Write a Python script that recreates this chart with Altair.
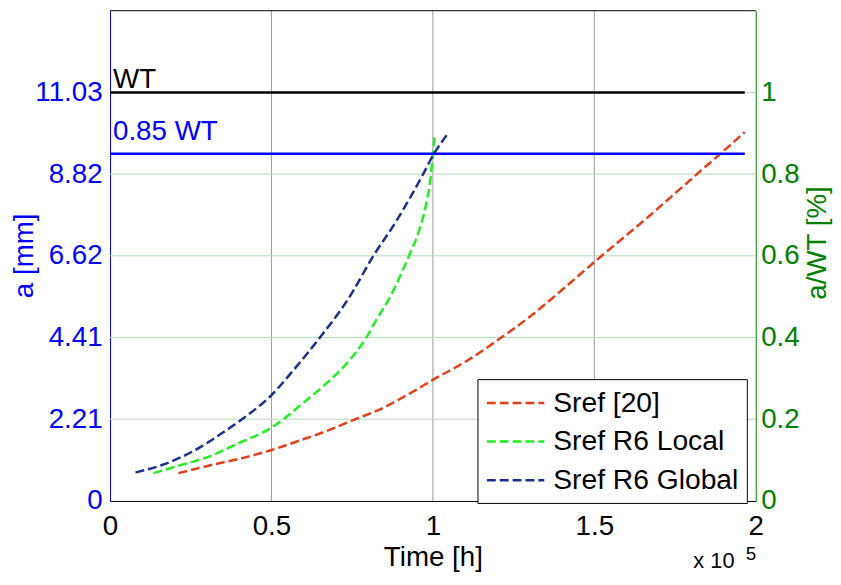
import altair as alt
import pandas as pd

FONT = "Liberation Sans"
FS = 28
WT = 11.03  # wall thickness [mm]

# ---- series (time in units of 1e5 h, crack depth a in mm) ----
t_sref = [0.212, 0.314, 0.416, 0.498, 0.590, 0.662, 0.764, 0.825, 0.948, 1.000,
          1.101, 1.202, 1.307, 1.399, 1.500, 1.663, 1.816, 1.890, 1.966]
a_sref = [0.75, 0.97, 1.17, 1.37, 1.64, 1.86, 2.22, 2.43, 3.00, 3.27,
          3.76, 4.35, 5.02, 5.69, 6.45, 7.64, 8.81, 9.37, 9.96]

t_local = [0.135, 0.212, 0.304, 0.396, 0.498, 0.539, 0.600, 0.662, 0.742, 0.794,
           0.825, 0.865, 0.926, 0.957, 0.979, 0.994, 1.000, 1.006]
a_local = [0.75, 0.95, 1.19, 1.55, 1.97, 2.22, 2.66, 3.11, 3.80, 4.41,
           4.89, 5.47, 6.62, 7.29, 8.01, 8.81, 9.37, 9.91]

t_global = [0.079, 0.161, 0.263, 0.345, 0.411, 0.498, 0.570, 0.650, 0.739, 0.816,
            0.887, 0.969, 1.003, 1.046]
a_global = [0.77, 0.97, 1.37, 1.82, 2.22, 2.84, 3.55, 4.41, 5.47, 6.62,
            7.56, 8.81, 9.37, 9.91]

series_names = ["Sref [20]", "Sref R6 Local", "Sref R6 Global"]
series_colors = ["#E2401A", "#22EE22", "#1C2E8C"]

# ---- axes / reference values ----
x_ticks = [0, 0.5, 1, 1.5, 2]
x_grid = [0.5, 1, 1.5]
ratio_ticks = [0, 0.2, 0.4, 0.6, 0.8, 1]
ratio_grid = [0.2, 0.4, 0.6, 0.8, 1]
mm_ticks = [r * WT for r in ratio_ticks]

ref_ratio = [1.0, 0.85]
ref_labels = ["WT", "0.85 WT"]
ref_colors = ["#000000", "#0000FF"]
ref_label_a = [11.16, 9.75]
ref_t_end = 1.966

W, H = 652, 495
BLUE = "#0000FF"
GREEN = "#008000"

xscale = alt.Scale(domain=[0, 2], nice=False, zero=False)
yscale_mm = alt.Scale(domain=[0, 1.2 * WT], nice=False, zero=False)
yscale_ratio = alt.Scale(domain=[0, 1.2], nice=False, zero=False)

x_axis = alt.Axis(orient="bottom", values=x_ticks, format="~g", labelFlush=False,
                  labelFont=FONT, labelFontSize=FS, labelColor="black", labelPadding=12,
                  domainColor="black", domainWidth=1, ticks=False, tickSize=0, grid=False,
                  title="Time [h]", titleFont=FONT, titleFontSize=FS, titleFontWeight="normal",
                  titleColor="black", titleY=65, titleBaseline="alphabetic")

y_axis_mm = alt.Axis(orient="left", values=mm_ticks,
                     labelExpr="datum.value == 0 ? '0' : format(datum.value, '.2f')",
                     labelFont=FONT, labelFontSize=FS, labelColor=BLUE, labelPadding=8,
                     domainColor=BLUE, domainWidth=1, ticks=False, tickSize=0, grid=False,
                     title="a [mm]", titleFont=FONT, titleFontSize=FS, titleFontWeight="normal",
                     titleColor=BLUE, titleAngle=270, titleX=-86, titleY=247,
                     titleBaseline="middle", titleAlign="center")

y_axis_ratio = alt.Axis(orient="right", values=ratio_ticks, format="~g",
                        labelFont=FONT, labelFontSize=FS, labelColor=GREEN, labelPadding=5,
                        domainColor=GREEN, domainWidth=1, ticks=False, tickSize=0, grid=False,
                        title="a/WT [%]", titleFont=FONT, titleFontSize=FS,
                        titleFontWeight="normal", titleColor=GREEN, titleAngle=270,
                        titleX=62, titleY=234, titleBaseline="middle", titleAlign="center")

# ---- data frames ----
curves = pd.concat([
    pd.DataFrame({"t": t_sref, "a": a_sref, "series": series_names[0]}),
    pd.DataFrame({"t": t_local, "a": a_local, "series": series_names[1]}),
    pd.DataFrame({"t": t_global, "a": a_global, "series": series_names[2]}),
], ignore_index=True)

refs = pd.DataFrame({"t0": [0.0] * len(ref_ratio), "t1": [ref_t_end] * len(ref_ratio),
                     "a": [r * WT for r in ref_ratio], "label": ref_labels,
                     "color": ref_colors, "ly": ref_label_a})

vgrid_df = pd.DataFrame({"t": x_grid})
hgrid_df = pd.DataFrame({"r": ratio_grid})

# ---- layers ----
vgrid = alt.Chart(vgrid_df).mark_rule(color="#9a9a9a", strokeWidth=1).encode(
    x=alt.X("t:Q", scale=xscale, axis=x_axis, title="Time [h]")
)

hgrid = alt.Chart(hgrid_df).mark_rule(color="#b4dcb4", strokeWidth=1).encode(
    y=alt.Y("r:Q", scale=yscale_ratio, axis=y_axis_ratio, title="a/WT [%]")
)

lines = alt.Chart(curves).mark_line(strokeWidth=2.5, strokeDash=[9, 4],
                                    interpolate="monotone").encode(
    x=alt.X("t:Q", scale=xscale, title="Time [h]"),
    y=alt.Y("a:Q", scale=yscale_mm, axis=y_axis_mm, title="a [mm]"),
    color=alt.Color("series:N", title=None,
                    scale=alt.Scale(domain=series_names, range=series_colors),
                    sort=series_names,
                    legend=alt.Legend(orient="none", legendX=371, legendY=372,
                                      symbolType="M-2,0H2", symbolSize=841,
                                      symbolOffset=14.5, symbolFillColor="transparent",
                                      symbolStrokeWidth=2.5, symbolDash=[9, 4],
                                      labelFont=FONT, labelFontSize=28.5, labelColor="black",
                                      labelOffset=22, labelLimit=400,
                                      fillColor="white", strokeColor="black",
                                      padding=8, rowPadding=8, cornerRadius=0)),
)

ref_rules = alt.Chart(refs).mark_rule(strokeWidth=2.5).encode(
    x=alt.X("t0:Q", scale=xscale, title="Time [h]"),
    x2="t1:Q",
    y=alt.Y("a:Q", scale=yscale_mm, axis=y_axis_mm, title="a [mm]"),
    color=alt.Color("color:N", scale=None),
)

ref_text = alt.Chart(refs).mark_text(align="left", baseline="alphabetic", dx=3,
                                     font=FONT, fontSize=FS).encode(
    x=alt.X("t0:Q", scale=xscale, title="Time [h]"),
    y=alt.Y("ly:Q", scale=yscale_mm, axis=y_axis_mm, title="a [mm]"),
    text="label:N",
    color=alt.Color("color:N", scale=None),
)

top_border = alt.Chart(pd.DataFrame({"k": [0]})).mark_rule(color="black", strokeWidth=1).encode(
    y=alt.value(0)
)

exp_base = alt.Chart(pd.DataFrame({"s": ["x 10"]})).mark_text(
    align="left", baseline="alphabetic", font=FONT, fontSize=22, color="black"
).encode(x=alt.value(589), y=alt.value(563), text="s:N")

exp_sup = alt.Chart(pd.DataFrame({"s": ["5"]})).mark_text(
    align="left", baseline="alphabetic", font=FONT, fontSize=19, color="black"
).encode(x=alt.value(642), y=alt.value(555), text="s:N")

mm_group = alt.layer(lines, ref_rules, ref_text, top_border, exp_base, exp_sup)

chart = alt.layer(vgrid, hgrid, mm_group).resolve_scale(
    y="independent", color="independent"
).properties(
    width=W, height=H,
    padding={"left": 103, "top": 0, "right": 78, "bottom": 69},
    autosize=alt.AutoSizeParams(type="none"),
    background="white",
).configure_view(stroke=None)

chart.save("out.html", embed_options={"renderer": "svg", "actions": False})
